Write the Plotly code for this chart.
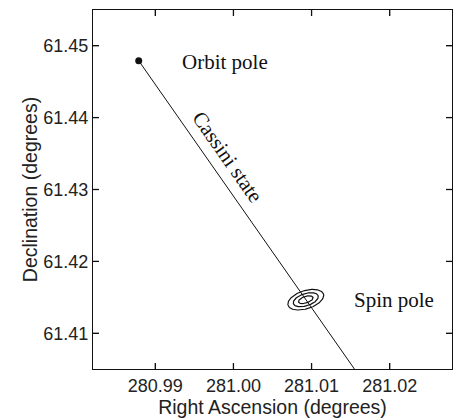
import numpy as np
import plotly.graph_objects as go

# ---- data (degrees) ----
orbit_pole_ra = [280.98788]
orbit_pole_dec = [61.44791]
spin_pole_ra = 281.00926
spin_pole_dec = 61.41467
# Cassini state line: from orbit pole through spin pole, continuing past the bottom
cassini_ra = [280.98788, 281.01872]
cassini_dec = [61.44791, 61.40000]
# error ellipses around the spin pole (semi-axes in degrees, orientation in degrees)
ell_semi_major = [0.00240, 0.00168, 0.00098]
ell_semi_minor = [0.00125, 0.00084, 0.00045]
ell_angle_deg = 20

x_ticks = [280.99, 281.00, 281.01, 281.02]
x_ticklabels = ["280.99", "281.00", "281.01", "281.02"]
y_ticks = [61.41, 61.42, 61.43, 61.44, 61.45]
y_ticklabels = ["61.41", "61.42", "61.43", "61.44", "61.45"]

x_range = [280.98203, 281.02797]
y_range = [61.40503, 61.45497]

fig = go.Figure()

fig.add_trace(go.Scatter(x=cassini_ra, y=cassini_dec, mode="lines",
                         line=dict(color="#111", width=1), hoverinfo="skip"))

phi = np.linspace(0, 2 * np.pi, 200)
th = np.deg2rad(ell_angle_deg)
for a, b in zip(ell_semi_major, ell_semi_minor):
    ex = spin_pole_ra + a * np.cos(phi) * np.cos(th) - b * np.sin(phi) * np.sin(th)
    ey = spin_pole_dec + a * np.cos(phi) * np.sin(th) + b * np.sin(phi) * np.cos(th)
    fig.add_trace(go.Scatter(x=ex, y=ey, mode="lines",
                             line=dict(color="#111", width=1.2), hoverinfo="skip"))

fig.add_trace(go.Scatter(x=orbit_pole_ra, y=orbit_pole_dec, mode="markers",
                         marker=dict(color="#111", size=7), hoverinfo="skip"))

serif = dict(family="Liberation Serif, Times New Roman, serif", size=21, color="#111")
fig.add_annotation(x=280.99313, y=61.44777, text="Orbit pole", showarrow=False,
                   xanchor="left", yanchor="middle", font=serif)
fig.add_annotation(x=281.01521, y=61.41467, text="Spin pole", showarrow=False,
                   xanchor="left", yanchor="middle", font=serif)
fig.add_annotation(x=280.99926, y=61.43456, text="Cassini state", showarrow=False,
                   xanchor="center", yanchor="middle", textangle=55, font=serif)

# inside tick marks on all four sides (tied to the tick values, length in pixels)
TICK_LEN = 6
tick_line = dict(color="#111", width=1.3)
for xv in x_ticks:
    for anchor, d in ((0, TICK_LEN), (1, -TICK_LEN)):
        fig.add_shape(type="line", xref="x", yref="paper", x0=xv, x1=xv,
                      ysizemode="pixel", yanchor=anchor, y0=0, y1=d, line=tick_line)
for yv in y_ticks:
    for anchor, d in ((0, TICK_LEN), (1, -TICK_LEN)):
        fig.add_shape(type="line", xref="paper", yref="y", y0=yv, y1=yv,
                      xsizemode="pixel", xanchor=anchor, x0=0, x1=d, line=tick_line)

sans = "Liberation Sans, Arial, sans-serif"
axis_common = dict(
    showgrid=False, zeroline=False, showline=True, linecolor="#111", linewidth=1.3,
    mirror="ticks", ticks="inside", ticklen=TICK_LEN, tickwidth=1.3, tickcolor="#111",
    automargin=False,
    tickfont=dict(family=sans, size=18, color="#222"),
)

fig.update_layout(
    width=458, height=418,
    margin=dict(l=93, r=6, t=10, b=49),
    paper_bgcolor="white", plot_bgcolor="white",
    showlegend=False,
    xaxis=dict(range=x_range, tickmode="array", tickvals=x_ticks, ticktext=x_ticklabels,
               title=dict(text="Right Ascension (degrees)", standoff=6,
                          font=dict(family=sans, size=19.5, color="#222")),
               **axis_common),
    yaxis=dict(range=y_range, tickmode="array", tickvals=y_ticks, ticktext=y_ticklabels,
               title=dict(text="Declination (degrees)", standoff=0,
                          font=dict(family=sans, size=19.5, color="#222")),
               **axis_common),
)

fig.write_html("out.html", config={"displayModeBar": False},
               post_script="document.body.style.margin='0';document.body.style.overflow='hidden';")
